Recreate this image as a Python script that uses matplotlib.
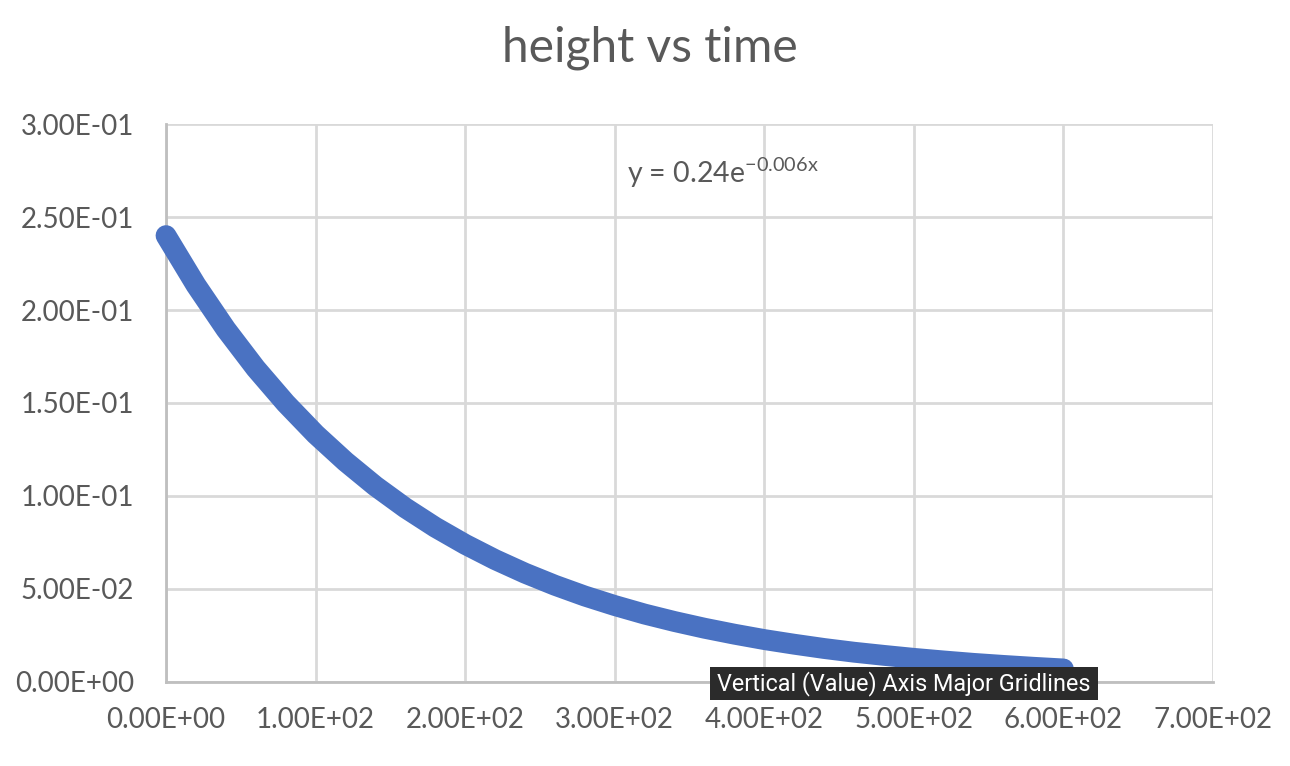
import matplotlib
matplotlib.use("Agg")
import matplotlib.pyplot as plt
from matplotlib.patches import Rectangle
from matplotlib.ticker import FuncFormatter, MultipleLocator

plt.rcParams['font.family'] = ['Lato', 'DejaVu Sans']

# values
time = [0, 20, 40, 60, 80, 100, 120, 140, 160, 180, 200, 220, 240, 260, 280,
        300, 320, 340, 360, 380, 400, 420, 440, 460, 480, 500, 520, 540, 560,
        580, 600]
height = [0.240, 0.2134, 0.1897, 0.1686, 0.1499, 0.1332, 0.1185, 0.1053,
          0.0936, 0.0832, 0.0740, 0.0658, 0.0585, 0.0520, 0.0462, 0.0411,
          0.0365, 0.0325, 0.0289, 0.0257, 0.0228, 0.0203, 0.0180, 0.0160,
          0.0143, 0.0127, 0.0113, 0.0100, 0.0089, 0.0079, 0.0070]

title = 'height vs time'
trend_label = r'y = 0.24e$^{\mathregular{-0.006x}}$'
tooltip = 'Vertical (Value) Axis Major Gridlines'

txt = '#595959'
grid_col = '#d9d9d9'

fig = plt.figure(figsize=(12.9, 7.66), dpi=100)
ax = fig.add_axes([0.1287, 0.1097, 0.8116, 0.7284])

ax.plot(time, height, color='#4a72c2', lw=15, solid_capstyle='round',
        solid_joinstyle='round', zorder=3, clip_on=False)

ax.set_xlim(0, 700)
ax.set_ylim(0, 0.3)
ax.xaxis.set_major_locator(MultipleLocator(100))
ax.yaxis.set_major_locator(MultipleLocator(0.05))
fmt = FuncFormatter(lambda v, p: '{:.2E}'.format(v))
ax.xaxis.set_major_formatter(fmt)
ax.yaxis.set_major_formatter(fmt)

ax.grid(True, color=grid_col, lw=2)
ax.set_axisbelow(True)
for s in ['top', 'right']:
    ax.spines[s].set_visible(False)
for s in ['left', 'bottom']:
    ax.spines[s].set_color('#bfbfbf')
    ax.spines[s].set_linewidth(2)
ax.tick_params(length=0, labelsize=20, colors=txt)
ax.tick_params(axis='y', pad=23)
ax.tick_params(axis='x', pad=18)

fig.text(0.504, 0.938, title, ha='center', va='center', fontsize=34.5, color=txt)
ax.text(308, 0.274, trend_label, fontsize=20.5, color=txt, va='center')

# hover tooltip box from the screenshot
fig.patches.append(Rectangle((0.5504, 0.0862), 0.3008, 0.0431,
                             transform=fig.transFigure, fc='#2b2b2b',
                             ec='none', zorder=5))
fig.text(0.7008, 0.1075, tooltip, ha='center', va='center', fontsize=16.8,
         color='white', family=['Roboto', 'DejaVu Sans'], zorder=6)

fig.savefig('out.png', dpi=100, facecolor='white')
